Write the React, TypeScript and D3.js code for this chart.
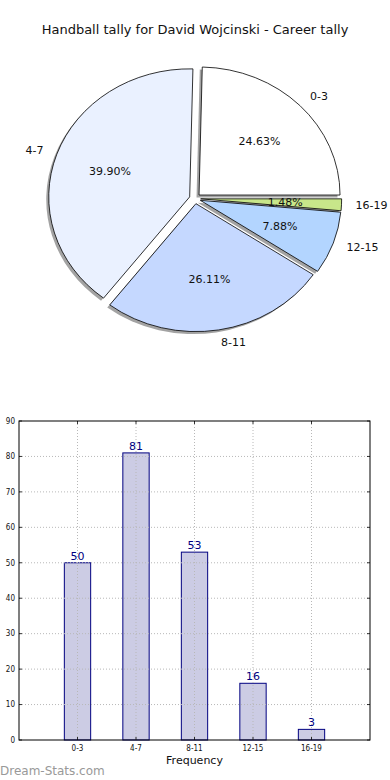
import React from 'react';
import * as d3 from 'd3';

const categories = ['0-3', '4-7', '8-11', '12-15', '16-19'];
const counts = [50, 81, 53, 16, 3];
const pieColors = ['#ffffff', '#eaf1ff', '#c5d8ff', '#b3d5ff', '#c8e68a'];
const yTicks = [0, 10, 20, 30, 40, 50, 60, 70, 80, 90];

const W = 390;
const H = 780;

// pie geometry (matplotlib draws it slightly squashed)
const cx = 195;
const cy = 198.6;
const rx = 141;
const ry = 128;
const explode = 0.04;

const total = d3.sum(counts);

const App = () => {
  // matplotlib: start at 3 o'clock, counterclockwise
  const pie = d3.pie<number>()
    .sort(null)
    .startAngle(Math.PI / 2)
    .endAngle(Math.PI / 2 - 2 * Math.PI);
  const arcs = pie(counts);
  const arc = d3.arc<d3.PieArcDatum<number>>().innerRadius(0).outerRadius(1);

  // convert d3 angle (0 = north, clockwise) to unit vector in screen coords
  const dir = (a: number) => [Math.sin(a), -Math.cos(a)];

  // bar chart scales
  const left = 19, right = 370, top = 421, bottom = 740;
  const x = d3.scaleLinear().domain([-1, 5]).range([left, right]);
  const y = d3.scaleLinear().domain([0, 90]).range([bottom, top]);
  const barW = x(0.45) - x(0);

  const font = 'DejaVu Sans, sans-serif';
  const smallFont = 'DejaVu Sans Condensed, DejaVu Sans, sans-serif';

  return (
    <svg width={W} height={H} style={{ position: 'absolute', left: 0, top: 0, background: '#fff' }}>
      <text x={W / 2} y={34} textAnchor="middle" fontFamily={font} fontSize={13} fill="#111">
        Handball tally for David Wojcinski - Career tally
      </text>

      {/* shadows */}
      {arcs.map((d, i) => {
        const m = (d.startAngle + d.endAngle) / 2;
        const [ux, uy] = dir(m);
        const ox = cx + explode * rx * ux - 2.5;
        const oy = cy + explode * ry * uy + 2.5;
        return (
          <path
            key={'s' + i}
            d={arc(d) || ''}
            transform={`translate(${ox},${oy}) scale(${rx},${ry})`}
            fill="#666"
            fillOpacity={0.6}
          />
        );
      })}

      {/* wedges */}
      {arcs.map((d, i) => {
        const m = (d.startAngle + d.endAngle) / 2;
        const [ux, uy] = dir(m);
        const ox = cx + explode * rx * ux;
        const oy = cy + explode * ry * uy;
        return (
          <path
            key={'w' + i}
            d={arc(d) || ''}
            transform={`translate(${ox},${oy}) scale(${rx},${ry})`}
            fill={pieColors[i]}
            stroke="#000"
            strokeWidth={0.8}
            vectorEffect="non-scaling-stroke"
          />
        );
      })}

      {/* labels */}
      {arcs.map((d, i) => {
        const m = (d.startAngle + d.endAngle) / 2;
        const [ux, uy] = dir(m);
        const lx = cx + (explode + 1.1) * rx * ux;
        const ly = cy + (explode + 1.1) * ry * uy;
        const px = cx + (explode + 0.6) * rx * ux;
        const py = cy + (explode + 0.6) * ry * uy;
        const pct = ((counts[i] / total) * 100).toFixed(2) + '%';
        return (
          <g key={'l' + i} fontFamily={font} fontSize={11} fill="#111">
            <text x={lx} y={ly} dy="0.35em" textAnchor={ux >= 0 ? 'start' : 'end'}>
              {categories[i]}
            </text>
            <text x={px} y={py} dy="0.35em" textAnchor="middle">
              {pct}
            </text>
          </g>
        );
      })}

      {/* bars */}
      {counts.map((v, i) => (
        <rect
          key={'b' + i}
          x={x(i) - barW / 2}
          y={y(v)}
          width={barW}
          height={y(0) - y(v)}
          fill="#ccccE4"
          stroke="#000080"
          strokeWidth={1}
        />
      ))}

      {/* grid */}
      <g stroke="#b8b8b8" strokeWidth={1} strokeDasharray="1,2">
        {yTicks.slice(1, -1).map(t => (
          <line key={'gy' + t} x1={left} x2={right} y1={y(t)} y2={y(t)} />
        ))}
        {categories.map((c, i) => (
          <line key={'gx' + c} x1={x(i)} x2={x(i)} y1={top} y2={bottom} />
        ))}
      </g>

      {/* ticks */}
      <g stroke="#000" strokeWidth={0.8}>
        {yTicks.map(t => (
          <g key={'ty' + t}>
            <line x1={left} x2={left + 3} y1={y(t)} y2={y(t)} />
            <line x1={right} x2={right - 3} y1={y(t)} y2={y(t)} />
          </g>
        ))}
        {categories.map((c, i) => (
          <g key={'tx' + c}>
            <line x1={x(i)} x2={x(i)} y1={bottom} y2={bottom - 3} />
            <line x1={x(i)} x2={x(i)} y1={top} y2={top + 3} />
          </g>
        ))}
      </g>

      <rect x={left} y={top} width={right - left} height={bottom - top} fill="none" stroke="#000" strokeWidth={1} />

      {/* value labels */}
      {counts.map((v, i) => (
        <text key={'v' + i} x={x(i)} y={y(v) - 3} textAnchor="middle" fontFamily={font} fontSize={11} fill="#000080">
          {v}
        </text>
      ))}

      {/* tick labels */}
      <g fontFamily={smallFont} fontSize={8} fill="#111">
        {yTicks.map(t => (
          <text key={'yl' + t} x={left - 4} y={y(t)} dy="0.35em" textAnchor="end">{t}</text>
        ))}
        {categories.map((c, i) => (
          <text key={'xl' + c} x={x(i)} y={bottom + 11} textAnchor="middle">{c}</text>
        ))}
      </g>

      <text x={(left + right) / 2} y={764} textAnchor="middle" fontFamily={font} fontSize={11} fill="#111">
        Frequency
      </text>

      <text x={0} y={775} fontFamily={font} fontSize={12} fill="#999">
        Dream-Stats.com
      </text>
    </svg>
  );
};

export default App;
